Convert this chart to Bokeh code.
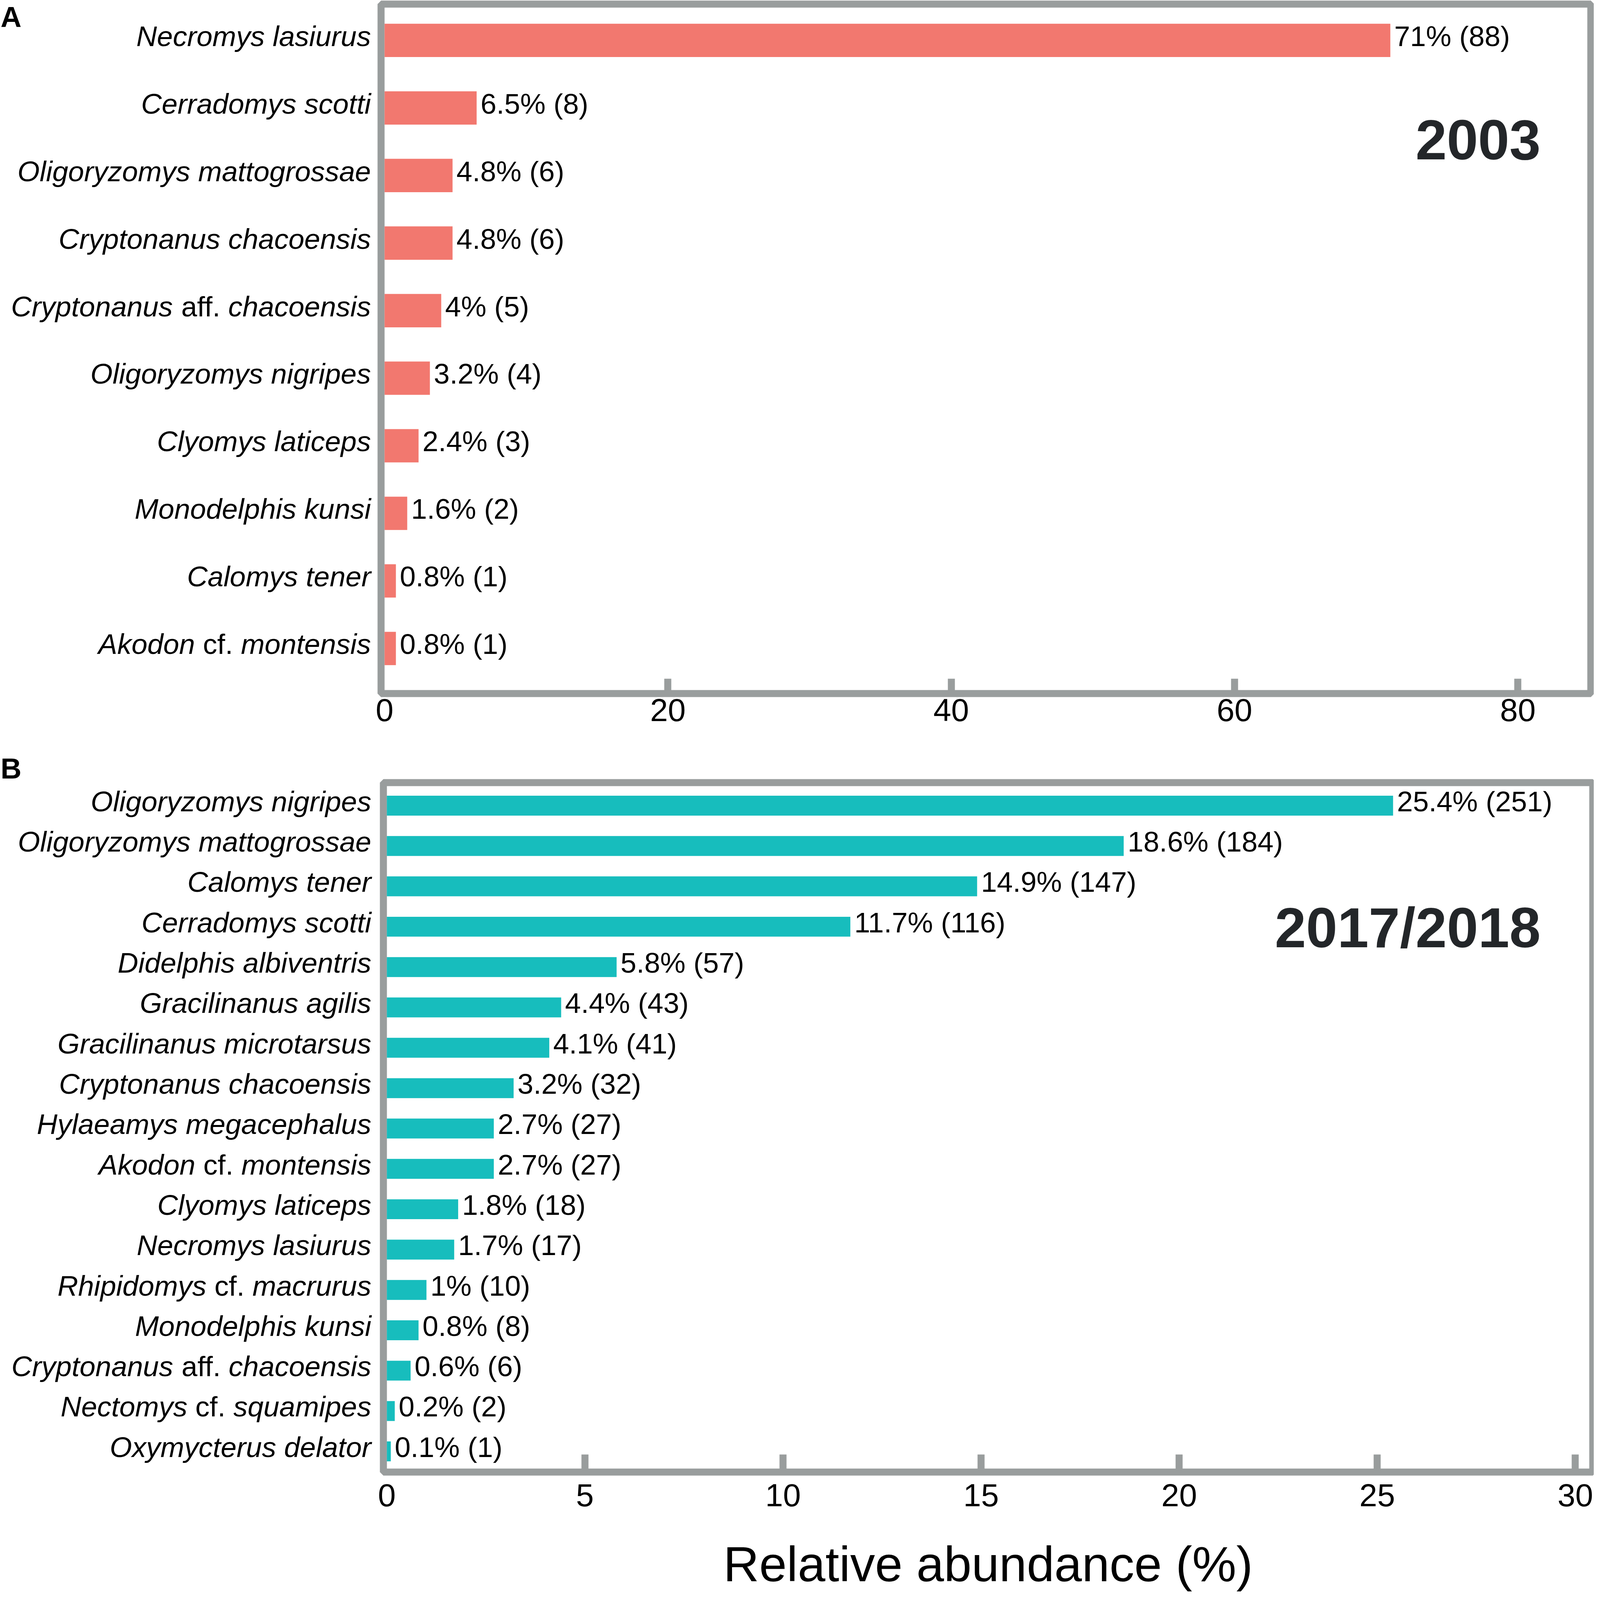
from bokeh.plotting import figure
from bokeh.models import Range1d, FixedTicker, Label, ColumnDataSource
from bokeh.layouts import column, row
from bokeh.core.properties import value, field
from bokeh.embed import file_html
from bokeh.resources import INLINE

# ---------------- data ----------------
a_species = ["Necromys lasiurus", "Cerradomys scotti", "Oligoryzomys mattogrossae",
             "Cryptonanus chacoensis", "Cryptonanus aff. chacoensis", "Oligoryzomys nigripes",
             "Clyomys laticeps", "Monodelphis kunsi", "Calomys tener", "Akodon cf. montensis"]
a_pct = [71, 6.5, 4.8, 4.8, 4, 3.2, 2.4, 1.6, 0.8, 0.8]
a_n = [88, 8, 6, 6, 5, 4, 3, 2, 1, 1]
a_ticks = [0, 20, 40, 60, 80]

b_species = ["Oligoryzomys nigripes", "Oligoryzomys mattogrossae", "Calomys tener",
             "Cerradomys scotti", "Didelphis albiventris", "Gracilinanus agilis",
             "Gracilinanus microtarsus", "Cryptonanus chacoensis", "Hylaeamys megacephalus",
             "Akodon cf. montensis", "Clyomys laticeps", "Necromys lasiurus",
             "Rhipidomys cf. macrurus", "Monodelphis kunsi", "Cryptonanus aff. chacoensis",
             "Nectomys cf. squamipes", "Oxymycterus delator"]
b_pct = [25.4, 18.6, 14.9, 11.7, 5.8, 4.4, 4.1, 3.2, 2.7, 2.7, 1.8, 1.7, 1, 0.8, 0.6, 0.2, 0.1]
b_n = [251, 184, 147, 116, 57, 43, 41, 32, 27, 27, 18, 17, 10, 8, 6, 2, 1]
b_ticks = [0, 5, 10, 15, 20, 25, 30]

x_title = "Relative abundance (%)"
QUALIFIERS = {"cf.", "aff."}

# ---------------- style / layout ----------------
FONT = "Liberation Sans"
GRAY = "#999d9d"
RED = "#f2786f"
TEAL = "#17bdbd"
W = 4080                    # total width  (fits the photographed area)
H = 4080                    # total height
SX = W / 4192.0             # layout designed on a 4192 x 4644 grid
SY = H / 4644.0
FS = 0.95                   # font scale
LW = 955                    # width of the species-name column
LBL = round(77 * FS)        # label font size, px
TICK_FS = round(86 * FS)
TITLE_FS = round(134 * FS)
YEAR_FS = round(152 * FS)
LET_FS = round(78 * FS)
MID = 0.3465                # baseline shift of rendered text (em)
ASC = 0.905

ADV = {' ': 278, '.': 278, 'a': 556, 'b': 556, 'c': 500, 'd': 556, 'e': 556, 'f': 278, 'g': 556,
       'h': 556, 'i': 222, 'j': 222, 'k': 500, 'l': 222, 'm': 833, 'n': 556, 'o': 556, 'p': 556,
       'q': 556, 'r': 333, 's': 500, 't': 278, 'u': 556, 'v': 500, 'w': 722, 'x': 500, 'y': 500,
       'z': 500}


def tw(s, size):
    return sum(ADV.get(c, 667) for c in s) * size / 1000.0


def groups(name):
    out = []
    for w in name.split(" "):
        st = "normal" if w in QUALIFIERS else "italic"
        if out and out[-1][1] == st:
            out[-1][0] += " " + w
        else:
            out.append([w, st])
    return out


def panel(species, pct, counts, ticks, color, year, letter, g0, title=None):
    g = dict(g0)
    for k in ("left", "right", "zero", "name_x", "year_dx", "ppu"):
        g[k] = g0[k] * SX
    for k in ("height", "top", "bottom", "first", "step", "tick", "year_base", "letter_base",
              "standoff"):
        g[k] = g0[k] * SY
    g["height"] = round(g["height"])
    g["top"] = round(g["top"])
    g["bottom"] = round(g["bottom"])
    g["left"] = round(g["left"])
    g["right"] = round(g["right"])

    x0 = -(g["zero"] - g["left"]) / g["ppu"]
    x1 = (g["right"] - g["zero"]) / g["ppu"]
    ytop = -(g["first"] - g["top"]) / g["step"]
    ybot = (g["bottom"] - g["first"]) / g["step"]
    shift = MID * LBL
    base_dy = 16 * SY

    # ---- species-name column ----
    pl = figure(width=LW, height=g["height"], x_range=Range1d(0, LW),
                y_range=Range1d(ybot + (g["height"] - g["bottom"]) / g["step"],
                                ytop - g["top"] / g["step"]),
                output_backend="svg", toolbar_location=None,
                x_axis_location=None, y_axis_location=None,
                min_border_left=0, min_border_right=0, min_border_top=0, min_border_bottom=0)
    pl.frame_align = False
    pl.outline_line_color = None
    pl.background_fill_color = "white"
    pl.border_fill_color = "white"
    pl.grid.visible = False
    xs, ys, ts, sts = [], [], [], []
    for i, name in enumerate(species):
        xr = g["name_x"]
        for txt, st in reversed(groups(name)):
            xs.append(xr); ys.append(i); ts.append(txt); sts.append(st)
            xr -= tw(txt, LBL) + tw(" ", LBL)
    src = ColumnDataSource(dict(x=xs, y=ys, text=ts, style=sts))
    pl.text(x="x", y="y", text="text", source=src, text_align="right",
            text_baseline="alphabetic", y_offset=base_dy - shift,
            text_font=value(FONT), text_font_style=field("style"),
            text_font_size=value(f"{LBL}px"), text_color="black")
    let_base = max(g["letter_base"], ASC * LET_FS + 2)
    lab_y = (let_base - LET_FS * MID - g["first"]) / g["step"]
    pl.text(x=[1], y=[lab_y], text=[letter], text_align="left", text_baseline="alphabetic",
            text_font=value(FONT), text_font_style="bold", text_font_size=value(f"{LET_FS}px"),
            text_color="black")

    # ---- bar panel ----
    p = figure(width=W - LW, height=g["height"], x_range=Range1d(x0, x1),
               y_range=Range1d(ybot, ytop),
               output_backend="svg", toolbar_location=None, y_axis_location=None,
               min_border_left=g["left"] - LW, min_border_right=W - g["right"],
               min_border_top=g["top"], min_border_bottom=g["height"] - g["bottom"])
    p.frame_align = False
    p.background_fill_color = "white"
    p.border_fill_color = "white"
    p.grid.visible = False
    p.outline_line_color = GRAY
    p.outline_line_width = 18
    p.outline_line_alpha = 1

    idx = list(range(len(species)))
    p.hbar(y=idx, left=0, right=pct, height=0.493, fill_color=color, line_color=None)

    ax = p.xaxis[0]
    ax.ticker = FixedTicker(ticks=ticks, minor_ticks=ticks[1:])
    ax.axis_line_color = None
    ax.major_tick_line_color = None
    ax.major_tick_in = 0
    ax.major_tick_out = 0
    ax.minor_tick_in = round(g["tick"])
    ax.minor_tick_out = 0
    ax.minor_tick_line_color = GRAY
    ax.minor_tick_line_width = 18
    ax.major_label_text_font = FONT
    ax.major_label_text_font_size = f"{TICK_FS}px"
    ax.major_label_text_color = "black"
    ax.major_label_standoff = round(g["standoff"])
    if title:
        ax.axis_label = title
        ax.axis_label_text_font = FONT
        ax.axis_label_text_font_size = f"{TITLE_FS}px"
        ax.axis_label_text_font_style = "normal"
        ax.axis_label_text_color = "black"
        ax.axis_label_standoff = g["title_standoff"]

    for i, (v, n) in enumerate(zip(pct, counts)):
        p.add_layout(Label(x=v, y=i, x_offset=10, y_offset=shift - base_dy, text=f"{v:g}% ({n})",
                           text_align="left", text_baseline="alphabetic",
                           text_font=FONT, text_font_size=f"{LBL}px", text_color="black"))

    p.add_layout(Label(x=x1, y=ytop, x_offset=g["year_dx"],
                       y_offset=-(g["year_base"] - YEAR_FS * MID - g["top"]), text=year,
                       text_align="right", text_baseline="alphabetic", text_font=FONT,
                       text_font_style="bold", text_font_size=f"{YEAR_FS}px",
                       text_color="#232629"))
    return row(pl, p, spacing=0)


# geometry on the 4192 x 4644 design grid (scaled to W x H above)
geoA = dict(height=2190, left=1002, right=4184, top=11, bottom=2020, zero=1011, ppu=37.26,
            first=117, step=196.9, tick=43, standoff=15, name_x=975,
            year_dx=-132, year_base=464, letter_base=59)
geoB = dict(height=2454, left=1008, right=4189, top=90, bottom=2099, zero=1017, ppu=104.2,
            first=157, step=117.6, tick=51, standoff=34, name_x=976,
            year_dx=-137, year_base=570, letter_base=78, title_standoff=74)

rA = panel(a_species, a_pct, a_n, a_ticks, RED, "2003", "A", geoA)
rB = panel(b_species, b_pct, b_n, b_ticks, TEAL, "2017/2018", "B", geoB, title=x_title)

layout = column(rA, rB, spacing=0)
open("out.html", "w").write(file_html(layout, INLINE))
